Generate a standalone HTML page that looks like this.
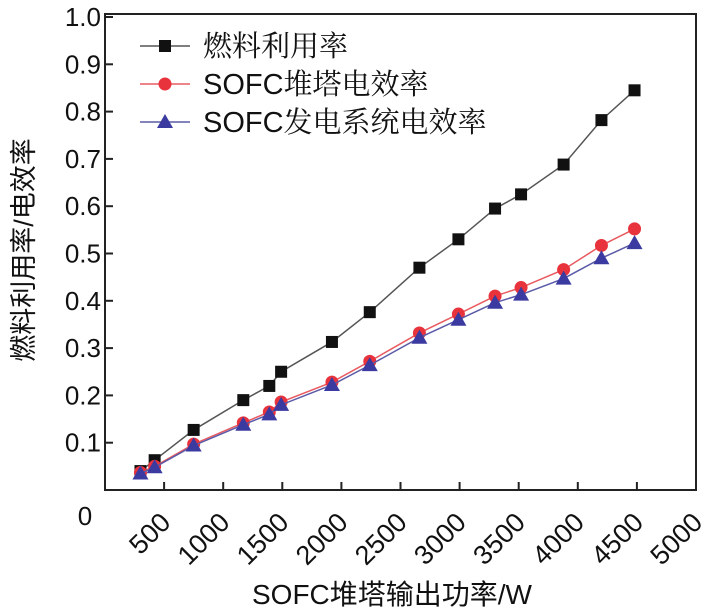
<!DOCTYPE html>
<html><head><meta charset="utf-8"><style>
body{margin:0;background:#fff;}
svg text{font-family:"Liberation Sans","Noto Sans CJK SC",sans-serif;}
svg text.lg{font-family:"Liberation Sans","Noto Serif CJK SC",serif;}
</style></head><body>
<svg id="c" width="713" height="611" xmlns="http://www.w3.org/2000/svg"></svg>
<script>
const xVals=[300,420,750,1170,1390,1490,1920,2240,2660,2990,3300,3520,3880,4200,4480];
const fuelUtil=[0.040,0.063,0.127,0.190,0.220,0.250,0.313,0.376,0.470,0.530,0.595,0.625,0.688,0.782,0.845];
const stackEff=[0.037,0.050,0.097,0.142,0.165,0.186,0.228,0.272,0.332,0.372,0.410,0.428,0.466,0.517,0.552];
const sysEff=[0.035,0.048,0.094,0.138,0.160,0.180,0.222,0.264,0.322,0.360,0.396,0.413,0.447,0.490,0.522];
const xTicks=[500,1000,1500,2000,2500,3000,3500,4000,4500,5000];
const yTicks=[0.1,0.2,0.3,0.4,0.5,0.6,0.7,0.8,0.9,1.0];
const legendLabels=["燃料利用率","SOFC堆塔电效率","SOFC发电系统电效率"];

const L=105,R=696,T=14,B=490;
const sx=v=>L+v*(R-L)/5000;
const sy=v=>B-v*473;
const svg=document.getElementById('c');
const NS="http://www.w3.org/2000/svg";
function mk(tag,attrs,parent){const e=document.createElementNS(NS,tag);for(const k in attrs)e.setAttribute(k,attrs[k]);(parent||svg).appendChild(e);return e;}

const frame=mk('rect',{x:L,y:T,width:R-L,height:B-T,fill:'none',stroke:'#222','stroke-width':2});



xTicks.forEach(t=>{
  const tk=mk('line',{x1:sx(t),x2:sx(t),y1:B,y2:B-8,stroke:'#222','stroke-width':2});
  
  
  const x=sx(t),y=B+22;
  const tx=mk('text',{x:x+8,y:y+12,'font-size':27,'text-anchor':'end',fill:'#111',transform:`rotate(-45 ${x+8} ${y+12})`});
  tx.textContent=t;
  
  
});
yTicks.forEach(t=>{
  const tk=mk('line',{x1:L,x2:L+8,y1:sy(t),y2:sy(t),stroke:'#222','stroke-width':2});
  
  
  const tx=mk('text',{x:L-4,y:sy(t)+9,'font-size':26,'text-anchor':'end',fill:'#111'});
  tx.textContent=t.toFixed(1);
  
  
});
const z=mk('text',{x:85,y:525,'font-size':26,'text-anchor':'middle',fill:'#111'});
z.textContent='0';



const xt=mk('text',{x:392,y:604,'font-size':28,'text-anchor':'middle',fill:'#111'});
xt.textContent='SOFC堆塔输出功率/W';


const yt=mk('text',{x:33,y:250,'font-size':27,'text-anchor':'middle',fill:'#111',transform:'rotate(-90 33 250)'});
yt.textContent='燃料利用率/电效率';



function marker(kind,x,y,color,name){
  let e;
  if(kind==='sq') e=mk('rect',{x:x-6,y:y-6,width:12,height:12,fill:color});
  else if(kind==='ci') e=mk('circle',{cx:x,cy:y,r:6.5,fill:color});
  else e=mk('polygon',{points:`${x},${y-8} ${x-8},${y+6} ${x+8},${y+6}`,fill:color});
  
  
}
const series=[[fuelUtil,'#111','#555','sq','fuel-point'],[stackEff,'#e8323c','#e85a60','ci','stack-point'],[sysEff,'#3a3aa0','#5a5aa8','tr','system-point']];
series.forEach(([vals,mc,lc,k,n])=>{
  const pl=mk('polyline',{points:vals.map((v,i)=>sx(xVals[i])+','+sy(v)).join(' '),fill:'none',stroke:lc,'stroke-width':1.5});
  
  
  vals.forEach((v,i)=>marker(k,sx(xVals[i]),sy(v),mc,n));
});
series.forEach(([vals,mc,lc,k,n],i)=>{
  const y=46+i*38;
  const ln=mk('line',{x1:140,x2:190,y1:y,y2:y,stroke:lc,'stroke-width':1.5});
  
  
  marker(k,165,y,mc,'legend-marker');
  const tx=mk('text',{x:203,y:y+10,'font-size':29,fill:'#111','class':'lg'});
  tx.textContent=legendLabels[i];
  
  
});
</script>
</body></html>
